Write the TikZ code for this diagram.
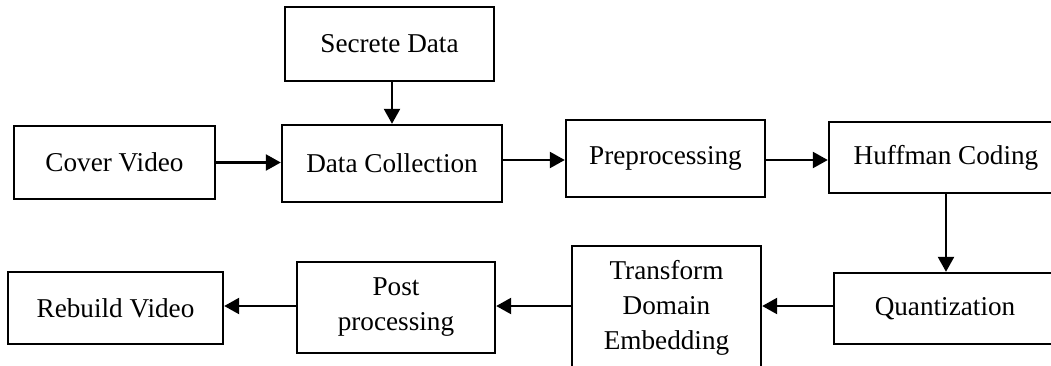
\documentclass[tikz,border=0pt]{standalone}
\usepackage{fontspec}
\setmainfont{Liberation Serif}
\usepackage{tikz}
\usetikzlibrary{arrows.meta,positioning}

\begin{document}
\begin{tikzpicture}[
  x=0.5pt, y=-0.5pt,
  etapa/.style={draw, line width=1.2pt, align=center, inner sep=0pt,
                font=\fontsize{13.6}{17.5}\selectfont},
  arr/.style={-{Triangle[length=7.5pt,width=8pt]}, line width=1.2pt}
]
\clip (0,0) rectangle (1051,365);
% fila superior
\node[etapa, minimum width=104.5pt, minimum height=37pt] (secreto) at (389.5,44) {Secrete Data};
\node[etapa, minimum width=100.5pt, minimum height=36.5pt] (cover) at (114.5,162.5) {Cover Video};
\node[etapa, minimum width=110pt, minimum height=38.5pt] (coleccion) at (392,163.5) {Data Collection};
\node[etapa, minimum width=99.5pt, minimum height=38.5pt] (prepro) at (665.5,158.5) {Preprocessing};
\node[etapa, minimum width=117pt, minimum height=35.5pt] (huffman) at (946,157.5) {Huffman Coding};
% fila inferior
\node[etapa, minimum width=111pt, minimum height=35.5pt] (cuant) at (945,308.5) {Quantization};
\node[etapa, minimum width=94.5pt, minimum height=62pt] (embed) at (666.5,308) {Transform\\Domain\\Embedding};
\node[etapa, minimum width=99pt, minimum height=45.5pt] (post) at (396,307.5) {Post\\processing};
\node[etapa, minimum width=107.5pt, minimum height=36pt] (rebuild) at (115.5,308) {Rebuild Video};
\draw[arr] (secreto.south -| coleccion.north) -- (coleccion.north);
\draw[arr] (cover.east) -- (cover.east -| coleccion.west);
\draw[arr] (coleccion.east |- 0,160) -- (prepro.west |- 0,160);
\draw[arr] (prepro.east |- 0,160) -- (huffman.west |- 0,160);
\draw[arr] (huffman.south) -- (huffman.south |- cuant.north);
\draw[arr] (cuant.west |- 0,306) -- (embed.east |- 0,306);
\draw[arr] (embed.west |- 0,306) -- (post.east |- 0,306);
\draw[arr] (post.west |- 0,306) -- (rebuild.east |- 0,306);
\end{tikzpicture}
\end{document}
